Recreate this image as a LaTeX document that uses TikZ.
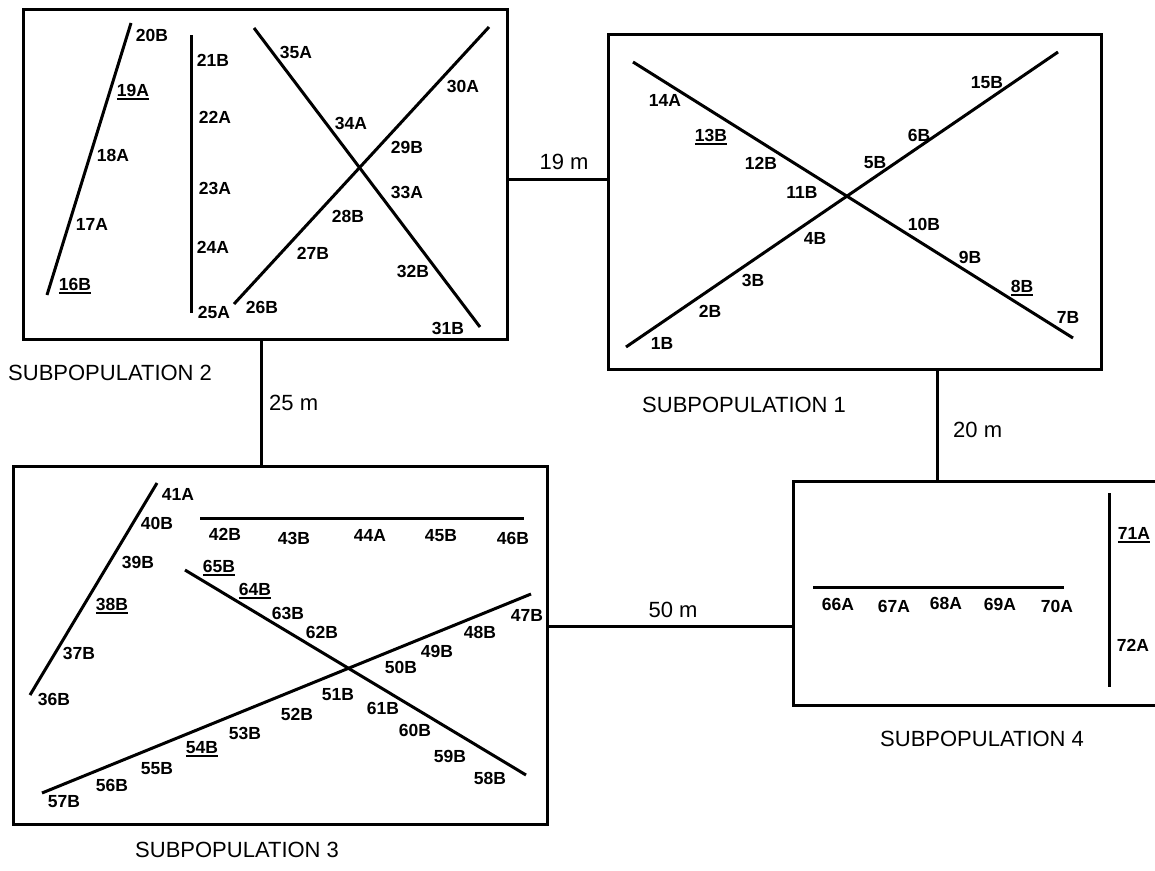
\documentclass[tikz,border=0pt]{standalone}
\usepackage{fontspec}
\setmainfont{Liberation Sans}
\newcommand\undl[1]{\setbox0=\hbox{#1}\rlap{\rule[-3.2pt]{\wd0}{1.7pt}}\box0}
\begin{document}
\begin{tikzpicture}[x=1pt,y=-1pt,
  box/.style={draw,line width=3pt,rectangle,inner sep=0pt,outer sep=0pt},
  conn/.style={line width=3pt},
  strand/.style={line width=3pt},
  lab/.style={font=\fontsize{17.5}{20}\selectfont\bfseries,inner sep=0pt},
  dist/.style={font=\fontsize{22}{26}\selectfont,inner sep=0pt},
  title/.style={font=\fontsize{22}{26}\selectfont,inner sep=0pt,anchor=west}]
\useasboundingbox (0,0) rectangle (1155,870);
\clip (0,0) rectangle (1155,870);

% boxes
\node[box,minimum width=484pt,minimum height=330pt] (b2) at (265,174) {};
\node[box,minimum width=493pt,minimum height=335pt] (b1) at (854.5,201.5) {};
\node[box,minimum width=534pt,minimum height=358pt] (b3) at (280,645) {};
\node[box,minimum width=382pt,minimum height=224pt] (b4) at (984,593) {};

% connectors
\coordinate (c19) at (0,179);
\coordinate (c25) at (261,0);
\coordinate (c20) at (937,0);
\coordinate (c50) at (0,626);
\draw[conn] (b2.east |- c19) -- (b1.west |- c19);
\draw[conn] (b2.south -| c25) -- (b3.north -| c25);
\draw[conn] (b1.south -| c20) -- (b4.north -| c20);
\draw[conn] (b3.east |- c50) -- (b4.west |- c50);

\node[dist] (d19) at (564,162) {19 m};
\node[dist,anchor=west] (d25) at (269,403) {25 m};
\node[dist,anchor=west] (d20) at (953,430) {20 m};
\node[dist] (d50) at (673,610) {50 m};

\node[title] (t2) at (8,373) {SUBPOPULATION 2};
\node[title] (t1) at (642,405) {SUBPOPULATION 1};
\node[title] (t4) at (880,739) {SUBPOPULATION 4};
\node[title] (t3) at (135,850) {SUBPOPULATION 3};

% subpopulation 2
\draw[strand] (47,295) -- (131,23);
\draw[strand] (191,35) -- (191,313);
\draw[strand] (254,28) -- (480,327);
\draw[strand] (489,27) -- (234,304);
\node[lab] (l20B) at (152,35) {20B};
\node[lab] (l19A) at (133,92) {\undl{19A}};
\node[lab] (l18A) at (113,155) {18A};
\node[lab] (l17A) at (92,224) {17A};
\node[lab] (l16B) at (75,286) {\undl{16B}};
\node[lab] (l21B) at (213,60) {21B};
\node[lab] (l22A) at (215,117) {22A};
\node[lab] (l23A) at (215,188) {23A};
\node[lab] (l24A) at (213,247) {24A};
\node[lab] (l25A) at (214,312) {25A};
\node[lab] (l35A) at (296,52) {35A};
\node[lab] (l34A) at (351,123) {34A};
\node[lab] (l33A) at (407,192) {33A};
\node[lab] (l32B) at (413,271) {32B};
\node[lab] (l31B) at (448,328) {31B};
\node[lab] (l30A) at (463,86) {30A};
\node[lab] (l29B) at (407,147) {29B};
\node[lab] (l28B) at (348,216) {28B};
\node[lab] (l27B) at (313,253) {27B};
\node[lab] (l26B) at (262,307) {26B};

% subpopulation 1
\draw[strand] (633,62) -- (1073,338);
\draw[strand] (626,347) -- (1058,52);
\node[lab] (l15B) at (987,83) {15B};
\node[lab] (l6B) at (919,135) {6B};
\node[lab] (l5B) at (875,163) {5B};
\node[lab] (l11B) at (802,192) {11B};
\node[lab] (l12B) at (761,163) {12B};
\node[lab] (l13B) at (711,137) {\undl{13B}};
\node[lab] (l14A) at (665,100) {14A};
\node[lab] (l10B) at (924,224) {10B};
\node[lab] (l9B) at (970,257) {9B};
\node[lab] (l8B) at (1022,288) {\undl{8B}};
\node[lab] (l7B) at (1068,317) {7B};
\node[lab] (l4B) at (815,238) {4B};
\node[lab] (l3B) at (753,280) {3B};
\node[lab] (l2B) at (710,311) {2B};
\node[lab] (l1B) at (662,343) {1B};

% subpopulation 3
\draw[strand] (30,695) -- (157,483);
\draw[strand] (200,518) -- (524,518);
\draw[strand] (185,570) -- (526,775);
\draw[strand] (42,793) -- (531,594);
\node[lab] (l41A) at (178,494) {41A};
\node[lab] (l40B) at (157,523) {40B};
\node[lab] (l39B) at (138,562) {39B};
\node[lab] (l38B) at (112,606) {\undl{38B}};
\node[lab] (l37B) at (79,653) {37B};
\node[lab] (l36B) at (54,699) {36B};
\node[lab] (l42B) at (225,534) {42B};
\node[lab] (l43B) at (294,538) {43B};
\node[lab] (l44A) at (370,535) {44A};
\node[lab] (l45B) at (441,536) {45B};
\node[lab] (l46B) at (513,538) {46B};
\node[lab] (l65B) at (219,568) {\undl{65B}};
\node[lab] (l64B) at (255,591) {\undl{64B}};
\node[lab] (l63B) at (288,613) {63B};
\node[lab] (l62B) at (322,632) {62B};
\node[lab] (l61B) at (383,708) {61B};
\node[lab] (l60B) at (415,730) {60B};
\node[lab] (l59B) at (450,756) {59B};
\node[lab] (l58B) at (490,778) {58B};
\node[lab] (l47B) at (527,615) {47B};
\node[lab] (l48B) at (480,632) {48B};
\node[lab] (l49B) at (437,651) {49B};
\node[lab] (l50B) at (401,667) {50B};
\node[lab] (l51B) at (338,695) {51B};
\node[lab] (l52B) at (297,714) {52B};
\node[lab] (l53B) at (245,733) {53B};
\node[lab] (l54B) at (202,749) {\undl{54B}};
\node[lab] (l55B) at (157,769) {55B};
\node[lab] (l56B) at (112,785) {56B};
\node[lab] (l57B) at (64,802) {57B};

% subpopulation 4
\draw[strand] (813,587) -- (1064,587);
\draw[strand] (1109,493) -- (1109,687);
\node[lab] (l66A) at (838,604) {66A};
\node[lab] (l67A) at (894,606) {67A};
\node[lab] (l68A) at (946,603) {68A};
\node[lab] (l69A) at (1000,604) {69A};
\node[lab] (l70A) at (1057,606) {70A};
\node[lab] (l71A) at (1134,535) {\undl{71A}};
\node[lab] (l72A) at (1133,645) {72A};
\end{tikzpicture}
\end{document}
